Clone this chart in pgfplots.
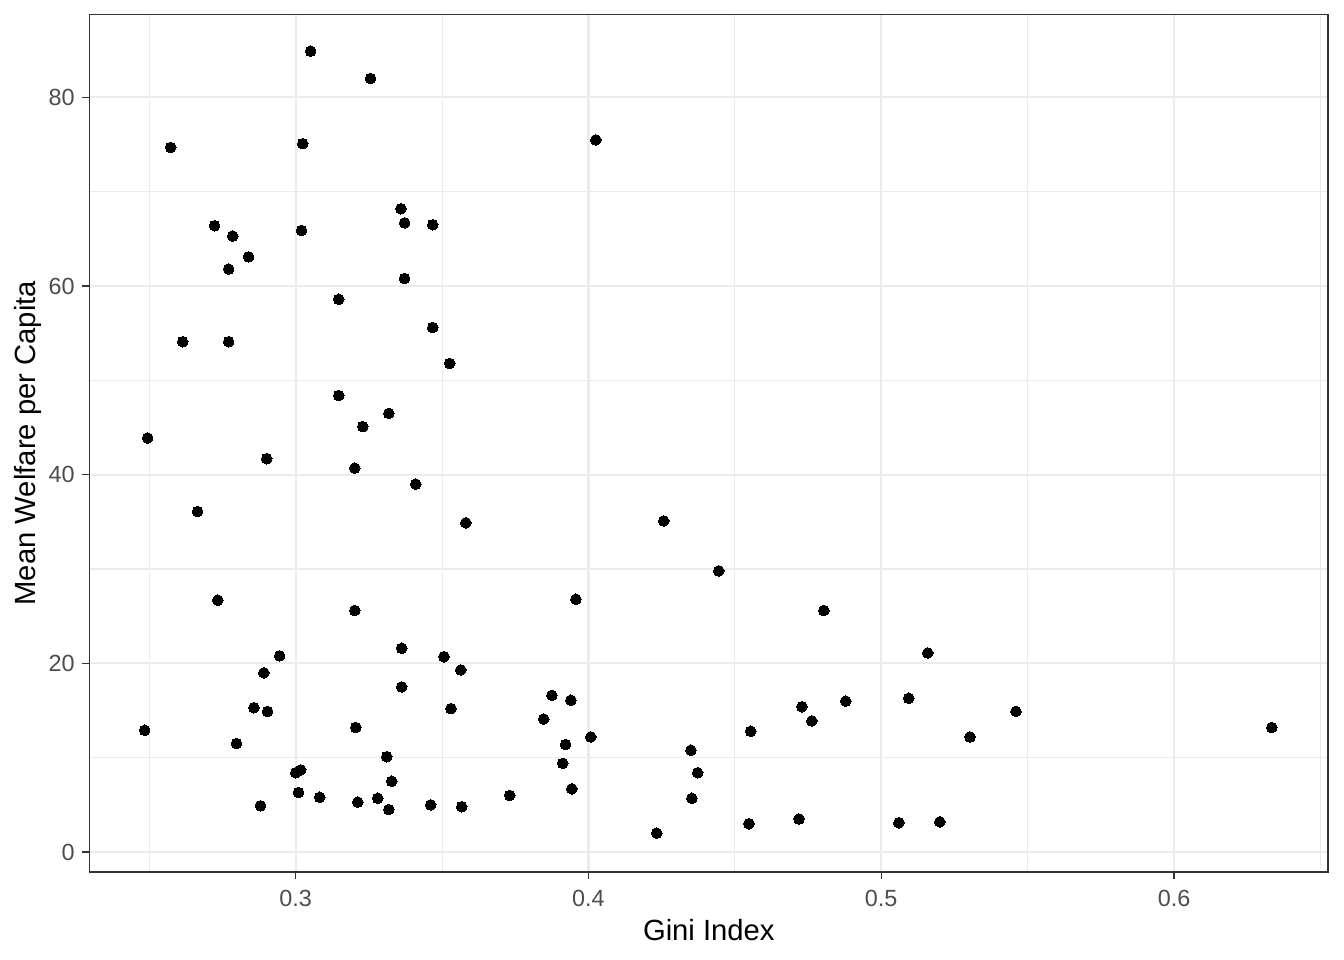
\documentclass[border=0pt]{standalone}
\usepackage{pgfplots}
\pgfplotsset{compat=1.18}
\usepackage{fontspec}
\setmainfont{Liberation Sans}

\definecolor{gridcol}{HTML}{EBEBEB}
\definecolor{framecol}{HTML}{333333}
\definecolor{ticktext}{HTML}{4D4D4D}

\pgfplotstableread{
gini welfare
0.3051 84.9
0.3256 82.0
0.2573 74.7
0.3024 75.1
0.4025 75.5
0.2723 66.4
0.2785 65.3
0.3020 65.9
0.3359 68.2
0.3372 66.7
0.3468 66.5
0.2839 63.1
0.2771 61.8
0.3372 60.8
0.3147 58.6
0.2614 54.1
0.2771 54.1
0.3468 55.6
0.3526 51.8
0.3147 48.4
0.3318 46.5
0.3229 45.1
0.2494 43.9
0.2901 41.7
0.3202 40.7
0.3410 39.0
0.2665 36.1
0.3581 34.9
0.4257 35.1
0.4445 29.8
0.2734 26.7
0.3202 25.6
0.3957 26.8
0.4804 25.6
0.5159 21.1
0.3362 21.6
0.2945 20.8
0.3506 20.7
0.3564 19.3
0.2891 19.0
0.3362 17.5
0.3875 16.6
0.3940 16.1
0.4879 16.0
0.5094 16.3
0.2857 15.3
0.2904 14.9
0.3530 15.2
0.4729 15.4
0.5460 14.9
0.3847 14.1
0.4763 13.9
0.2484 12.9
0.3205 13.2
0.4554 12.8
0.6334 13.2
0.4008 12.2
0.5303 12.2
0.2798 11.5
0.3922 11.4
0.4350 10.8
0.3311 10.1
0.3912 9.4
0.3017 8.7
0.3000 8.4
0.4373 8.4
0.3328 7.5
0.3943 6.7
0.3010 6.3
0.3731 6.0
0.3082 5.8
0.3280 5.7
0.4353 5.7
0.3212 5.3
0.2880 4.9
0.3461 5.0
0.3567 4.8
0.3318 4.5
0.4233 2.0
0.4548 3.0
0.4719 3.5
0.5060 3.1
0.5200 3.2
}\datatable

\begin{document}
\begin{tikzpicture}
\useasboundingbox (-33.6bp,-33bp) rectangle (470.4bp,327bp);
\begin{axis}[
    at={(0,0)}, anchor=south west,
    scale only axis,
    width=464.4bp, height=321.6bp,
    xmin=0.2296, xmax=0.6526,
    ymin=-2.12, ymax=88.8,
    xtick={0.3,0.4,0.5,0.6},
    xticklabels={0.3,0.4,0.5,0.6},
    ytick={0,20,40,60,80},
    yticklabels={0,20,40,60,80},
    minor xtick={0.25,0.35,0.45,0.55,0.65},
    minor ytick={10,30,50,70},
    grid=both,
    major grid style={draw=gridcol, line width=0.8bp},
    minor grid style={draw=gridcol, line width=0.4bp},
    axis line style={draw=framecol, line width=0.5bp},
    tick align=outside,
    major tick length=2.7bp,
    minor tick length=0pt,
    tick style={draw=framecol, line width=0.5bp},
    xtick pos=bottom, ytick pos=left,
    ticklabel style={font=\fontsize{8.8}{10}\selectfont, text=ticktext},
    /pgf/number format/assume math mode=true,
    xticklabel style={anchor=north, yshift=-0.5bp},
    yticklabel style={anchor=east, xshift=0.6bp},
    xlabel={Gini Index},
    ylabel={Mean Welfare per Capita},
    label style={font=\fontsize{11}{13}\selectfont},
    xlabel style={at={(axis description cs:0.5,0)}, anchor=center, yshift=-21.75bp},
    ylabel style={at={(axis description cs:0,0.5)}, anchor=center, yshift=23bp},
]
\addplot[only marks, mark=*, mark size=2bp, mark options={fill=black, draw=black, line width=0pt}]
    table[x=gini, y=welfare] {\datatable};
\end{axis}
\end{tikzpicture}
\end{document}
